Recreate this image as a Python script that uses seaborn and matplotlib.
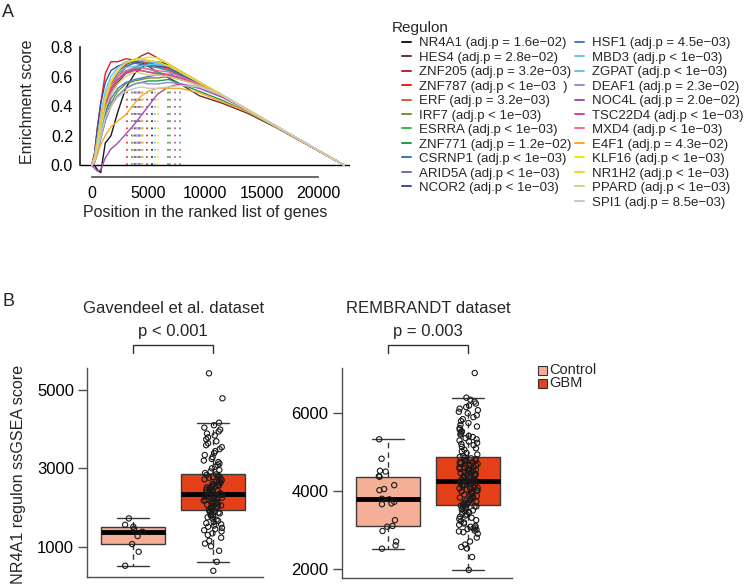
import numpy as np
import pandas as pd
import matplotlib
matplotlib.use("Agg")
import matplotlib.pyplot as plt
from matplotlib.lines import Line2D
from matplotlib.patches import Rectangle
import seaborn as sns

# ---------------- panel A : regulon enrichment curves ----------------
regulons = ["NR4A1", "HES4", "ZNF205", "ZNF787", "ERF", "IRF7", "ESRRA", "ZNF771",
            "CSRNP1", "ARID5A", "NCOR2", "HSF1", "MBD3", "ZGPAT", "DEAF1", "NOC4L",
            "TSC22D4", "MXD4", "E4F1", "KLF16", "NR1H2", "PPARD", "SPI1"]
adj_p = ["= 1.6e\u221202", "= 2.8e\u221202", "= 3.2e\u221203", "< 1e\u221203  ", "= 3.2e\u221203",
         "< 1e\u221203", "< 1e\u221203", "= 1.2e\u221202", "< 1e\u221203", "< 1e\u221203",
         "< 1e\u221203", "= 4.5e\u221203", "< 1e\u221203", "< 1e\u221203", "= 2.3e\u221202",
         "= 2.0e\u221202", "< 1e\u221203", "< 1e\u221203", "= 4.3e\u221202", "< 1e\u221203",
         "< 1e\u221203", "< 1e\u221203", "= 8.5e\u221203"]
reg_colors = ["#1a1a1a", "#6b2c2c", "#b3282d", "#ee1c1c", "#e8573a", "#7f8a2a", "#3cb44b",
              "#1e9a4a", "#2f7aa8", "#6b6bb0", "#3a4aa0", "#4a7ac8", "#5ec8f0", "#6fc0ee",
              "#8a90d0", "#a050b0", "#e0409a", "#f06595", "#f9a825", "#f5e600", "#e6d730",
              "#d8cf7a", "#c8c8c8"]

# gene rank positions and running enrichment score read at those positions
rank_grid = [0, 250, 500, 800, 1200, 1700, 2300, 3000, 3800, 4400, 5000, 5800,
             6800, 7800, 9500, 11500, 13800, 16300, 22290]
es_curves = [
    [0, 0.00, -0.03, -0.05, 0.15, 0.20, 0.36, 0.52, 0.62, 0.66, 0.69, 0.70, 0.68, 0.63, 0.56, 0.47, 0.37, 0.26, 0],
    [0, 0.02, 0.10, 0.20, 0.35, 0.48, 0.56, 0.62, 0.66, 0.68, 0.67, 0.63, 0.59, 0.55, 0.47, 0.42, 0.35, 0.254, 0],
    [0, 0.05, 0.15, 0.30, 0.45, 0.56, 0.63, 0.68, 0.71, 0.74, 0.76, 0.726, 0.682, 0.638, 0.563, 0.475, 0.374, 0.264, 0],
    [0, 0.08, 0.25, 0.42, 0.62, 0.70, 0.70, 0.72, 0.71, 0.70, 0.69, 0.68, 0.66, 0.62, 0.55, 0.47, 0.37, 0.26, 0],
    [0, 0.04, 0.14, 0.28, 0.42, 0.52, 0.60, 0.66, 0.70, 0.70, 0.69, 0.67, 0.65, 0.61, 0.55, 0.47, 0.37, 0.26, 0],
    [0, 0.03, 0.10, 0.20, 0.32, 0.42, 0.50, 0.55, 0.57, 0.58, 0.59, 0.59, 0.60, 0.58, 0.54, 0.47, 0.37, 0.26, 0],
    [0, 0.04, 0.12, 0.25, 0.40, 0.50, 0.58, 0.62, 0.65, 0.66, 0.65, 0.63, 0.61, 0.59, 0.54, 0.47, 0.37, 0.26, 0],
    [0, 0.02, 0.08, 0.18, 0.30, 0.40, 0.47, 0.52, 0.55, 0.56, 0.57, 0.57, 0.58, 0.55, 0.50, 0.44, 0.36, 0.26, 0],
    [0, 0.05, 0.16, 0.30, 0.44, 0.55, 0.62, 0.67, 0.69, 0.68, 0.67, 0.66, 0.64, 0.61, 0.55, 0.47, 0.37, 0.26, 0],
    [0, 0.04, 0.13, 0.26, 0.40, 0.51, 0.58, 0.63, 0.65, 0.64, 0.63, 0.62, 0.61, 0.59, 0.54, 0.47, 0.37, 0.26, 0],
    [0, 0.08, 0.25, 0.42, 0.56, 0.64, 0.67, 0.69, 0.70, 0.69, 0.68, 0.67, 0.66, 0.62, 0.55, 0.47, 0.37, 0.26, 0],
    [0, 0.03, 0.11, 0.22, 0.35, 0.45, 0.52, 0.56, 0.58, 0.59, 0.60, 0.61, 0.615, 0.62, 0.56, 0.475, 0.374, 0.264, 0],
    [0, 0.06, 0.18, 0.33, 0.47, 0.57, 0.63, 0.66, 0.67, 0.67, 0.68, 0.68, 0.67, 0.63, 0.56, 0.475, 0.374, 0.264, 0],
    [0, 0.06, 0.18, 0.34, 0.50, 0.60, 0.66, 0.70, 0.71, 0.71, 0.70, 0.69, 0.67, 0.63, 0.56, 0.475, 0.374, 0.264, 0],
    [0, 0.02, 0.08, 0.18, 0.30, 0.40, 0.47, 0.52, 0.55, 0.56, 0.55, 0.55, 0.56, 0.55, 0.53, 0.47, 0.37, 0.26, 0],
    [0, -0.02, -0.04, -0.03, 0.05, 0.11, 0.15, 0.21, 0.28, 0.34, 0.40, 0.48, 0.53, 0.55, 0.52, 0.46, 0.37, 0.26, 0],
    [0, 0.05, 0.14, 0.27, 0.41, 0.51, 0.58, 0.62, 0.64, 0.64, 0.63, 0.62, 0.61, 0.59, 0.54, 0.47, 0.37, 0.26, 0],
    [0, 0.05, 0.15, 0.30, 0.44, 0.54, 0.60, 0.64, 0.66, 0.66, 0.65, 0.64, 0.63, 0.60, 0.55, 0.47, 0.37, 0.26, 0],
    [0, 0.02, 0.07, 0.14, 0.20, 0.26, 0.30, 0.34, 0.42, 0.47, 0.50, 0.52, 0.52, 0.52, 0.49, 0.43, 0.36, 0.26, 0],
    [0, 0.04, 0.14, 0.28, 0.44, 0.56, 0.64, 0.69, 0.71, 0.72, 0.73, 0.726, 0.682, 0.638, 0.563, 0.475, 0.374, 0.264, 0],
    [0, 0.05, 0.16, 0.31, 0.46, 0.57, 0.64, 0.69, 0.72, 0.72, 0.71, 0.70, 0.67, 0.63, 0.56, 0.475, 0.374, 0.264, 0],
    [0, 0.04, 0.12, 0.24, 0.38, 0.48, 0.55, 0.60, 0.63, 0.62, 0.61, 0.61, 0.60, 0.58, 0.54, 0.47, 0.37, 0.26, 0],
    [0, 0.03, 0.10, 0.20, 0.32, 0.40, 0.46, 0.50, 0.52, 0.53, 0.52, 0.52, 0.53, 0.54, 0.53, 0.475, 0.374, 0.264, 0],
]
# rank of the peak (dotted marks)
peak_rank = [5290, 4200, 4850, 3140, 3700, 6910, 4000, 6700, 3800, 3900, 3600, 7790,
             5580, 4100, 4300, 7350, 4200, 4400, 4450, 5870, 4500, 3650, 4000]
mark_top = 0.5

# ---------------- panel B : ssGSEA scores ----------------
groups = ["Control", "GBM"]
group_colors = ["#F4AF96", "#E4401A"]

gav_control = [513, 871, 1066, 1271, 1381, 1450, 1509, 1560, 1722]
gav_gbm = [385, 615, 896, 1010, 1080, 1150, 1230, 1300, 1340, 1390, 1420, 1450, 1480, 1510,
           1540, 1570, 1600, 1630, 1660, 1690, 1720, 1750, 1770, 1790, 1810, 1830, 1850, 1870,
           1890, 1910, 1935,
           1950, 1965, 1980, 1995, 2010, 2025, 2040, 2055, 2070, 2085, 2100, 2115, 2130, 2145,
           2160, 2175, 2190, 2205, 2220, 2235, 2250, 2262, 2274, 2286, 2298, 2310, 2322, 2334,
           2343, 2351,
           2365, 2380, 2395, 2410, 2425, 2440, 2455, 2470, 2485, 2500, 2515, 2530, 2545, 2560,
           2575, 2590, 2605, 2620, 2640, 2660, 2680, 2700, 2720, 2740, 2760, 2780, 2800, 2815,
           2830, 2847,
           2880, 2920, 2960, 3000, 3040, 3080, 3120, 3160, 3200, 3240, 3290, 3340, 3390, 3440,
           3490, 3540, 3590, 3640, 3690, 3740, 3790, 3840, 3890, 3940, 3990, 4040, 4100, 4165,
           4788, 5426]

rem_control = [2515, 2600, 2700, 2970, 3080, 3099, 3250, 3660, 3680, 3720, 3786, 3800, 4020,
               4050, 4150, 4368, 4380, 4500, 4520, 4830, 5331]
rem_gbm = [1967, 2300, 2520, 2560, 2620, 2700, 2800, 2900, 2940, 2960, 2980, 3000, 3020, 3040,
           3060, 3080, 3100, 3130, 3160, 3190, 3220, 3250, 3280, 3310, 3340, 3370, 3400, 3420,
           3440, 3460, 3480, 3500, 3520, 3540, 3560, 3575, 3590, 3600, 3610, 3620, 3632,
           3650, 3670, 3690, 3710, 3730, 3750, 3770, 3790, 3810, 3830, 3850, 3870, 3890, 3910,
           3930, 3950, 3970, 3990, 4005, 4020, 4035, 4050, 4065, 4080, 4095, 4110, 4125, 4140,
           4155, 4170, 4185, 4200, 4210, 4220, 4230, 4240, 4248, 4255, 4260, 4265,
           4280, 4295, 4310, 4325, 4340, 4355, 4370, 4385, 4400, 4415, 4430, 4445, 4460, 4475,
           4490, 4505, 4520, 4535, 4550, 4565, 4580, 4595, 4610, 4625, 4640, 4655, 4670, 4685,
           4700, 4715, 4730, 4745, 4760, 4775, 4790, 4805, 4820, 4840, 4860, 4875,
           4900, 4940, 4980, 5020, 5060, 5100, 5140, 5180, 5210, 5240, 5270, 5300, 5330, 5360,
           5390, 5420, 5450, 5480, 5510, 5540, 5580, 5620, 5660, 5700, 5750, 5800, 5850, 5900,
           5950, 6000, 6040, 6080, 6120, 6160, 6200, 6250, 6300, 6350, 6402, 7037]

sns.set_theme(style="white")
plt.rcParams["font.family"] = ["Liberation Sans", "DejaVu Sans"]
np.random.seed(7)

W, H = 749, 587
fig = plt.figure(figsize=(W / 100, H / 100), dpi=100)


def px_box(left, top, right, bottom):
    return [left / W, 1 - bottom / H, (right - left) / W, (bottom - top) / H]


# ---- A
axa = fig.add_axes(px_box(80, 46.9, 350, 176.7))
rows = []
for name, es in zip(regulons, es_curves):
    for r, e in zip(rank_grid, es):
        rows.append((name, r, e))
gsea = pd.DataFrame(rows, columns=["regulon", "rank", "es"])
axa.axhline(0, color="black", lw=1, zorder=1)
axa.vlines(peak_rank, 0, mark_top, colors=reg_colors, linestyles=(0, (1, 3.3)), lw=1.2, zorder=2)
sns.lineplot(data=gsea, x="rank", y="es", hue="regulon", hue_order=regulons,
             palette=reg_colors, estimator=None, sort=False, legend=False, lw=1.0, ax=axa)
axa.set_xlim(-1030, 22790)
axa.set_ylim(-0.077, 0.80)
axa.set_xticks([0, 5000, 10000, 15000, 20000])
axa.set_yticks([0, 0.2, 0.4, 0.6, 0.8])
axa.set_yticklabels(["0.0", "0.2", "0.4", "0.6", "0.8"])
axa.set_xlabel("")
axa.set_ylabel("")
for s in ["top", "right"]:
    axa.spines[s].set_visible(False)
axa.spines["left"].set_bounds(0, 0.8)
axa.spines["bottom"].set_bounds(0, 20000)
axa.spines["left"].set_color("#222222")
axa.spines["bottom"].set_color("#555555")
axa.tick_params(direction="in", length=3, labelsize=11.5, colors="#222222", labelcolor="black")
axa.tick_params(axis="x", pad=7)
axa.tick_params(axis="y", pad=5)

fig.text(27.5 / W, 1 - 102 / H, "Enrichment score", rotation=90, ha="center", va="center", fontsize=11.5)
fig.text(205 / W, 1 - 213 / H, "Position in the ranked list of genes", ha="center", va="center", fontsize=11.5)
fig.text(2 / W, 1 - 12.5 / H, "A", ha="left", va="center", fontsize=13)

handles = [Line2D([], [], color=c, lw=1.4) for c in reg_colors]
labels = [f"{n} (adj.p {p})" for n, p in zip(regulons, adj_p)]
handles.insert(11, Line2D([], [], color="none"))
labels.insert(11, "")
fig.text(392 / W, 1 - 28 / H, "Regulon", ha="left", va="center", fontsize=11)
fig.legend(handles, labels, loc="upper left", bbox_to_anchor=(402 / W, 1 - 37 / H), ncol=2,
           frameon=False, fontsize=9.5, handlelength=0.68, handletextpad=0.58,
           columnspacing=0.3, labelspacing=0.17, borderpad=0, borderaxespad=0)

# ---- B
def score_panel(ax, control, gbm, xlim, ylim, yticks, title, ptext):
    df = pd.DataFrame({"group": ["Control"] * len(control) + ["GBM"] * len(gbm),
                       "score": list(control) + list(gbm)})
    sns.boxplot(data=df, x="group", y="score", hue="group", order=groups, hue_order=groups,
                palette=group_colors, saturation=1, width=0.8, linecolor="#3a3a3a",
                linewidth=1, showfliers=False, legend=False,
                whiskerprops={"linestyle": (0, (4, 3))},
                medianprops={"color": "black", "linewidth": 3.5}, ax=ax)
    sns.stripplot(data=df, x="group", y="score", order=groups, jitter=0.12, size=3.8,
                  facecolor="none", edgecolor="#1a1a1a", linewidth=0.8, ax=ax)
    ax.set_xlim(*xlim)
    ax.set_ylim(*ylim)
    ax.set_yticks(yticks)
    ax.set_xticks([])
    ax.set_xlabel("")
    ax.set_ylabel("")
    for s in ["top", "right"]:
        ax.spines[s].set_visible(False)
    for s in ["left", "bottom"]:
        ax.spines[s].set_color("#4d4d4d")
        ax.spines[s].set_linewidth(1)
    ax.tick_params(axis="y", direction="out", length=6.5, width=1, colors="#4d4d4d",
                   labelcolor="black", labelsize=12, pad=3, left=True)
    tr = ax.get_xaxis_transform()
    ax.plot([0, 0, 1, 1], [1.075, 1.112, 1.112, 1.075], color="#333333", lw=1,
            transform=tr, clip_on=False)
    ax.text(0.5, 1.178, ptext, transform=tr, ha="center", va="center", fontsize=12)
    ax.text(0.5, 1.285, title, transform=tr, ha="center", va="center", fontsize=12)


axb1 = fig.add_axes(px_box(87.3, 368.3, 263.3, 576.7))
score_panel(axb1, gav_control, gav_gbm, (-0.575, 1.625), (234, 5554), [1000, 3000, 5000],
            "Gavendeel et al. dataset", "p < 0.001")
axb2 = fig.add_axes(px_box(341.7, 368.3, 512.3, 577.7))
score_panel(axb2, rem_control, rem_gbm, (-0.583, 1.55), (1768, 7158), [2000, 4000, 6000],
            "REMBRANDT dataset", "p = 0.003")

fig.text(19 / W, 1 - 474 / H, "NR4A1 regulon ssGSEA score", rotation=90, ha="center",
         va="center", fontsize=11.6)
fig.text(2 / W, 1 - 301 / H, "B", ha="left", va="center", fontsize=13)

for i, (g, c) in enumerate(zip(groups, group_colors)):
    yc = 370.5 + i * 12.8
    fig.patches.append(Rectangle((537.7 / W, 1 - (yc + 4.5) / H), 9 / W, 9 / H,
                                 transform=fig.transFigure, facecolor=c,
                                 edgecolor="#333333", lw=0.8))
    fig.text(549.3 / W, 1 - yc / H, g, ha="left", va="center", fontsize=10.5)

fig.savefig("out.png", dpi=100)
